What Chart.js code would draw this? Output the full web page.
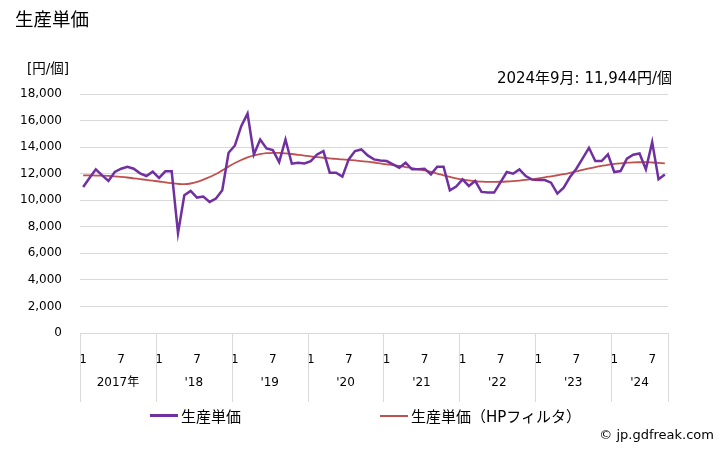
<!DOCTYPE html>
<html>
<head>
<meta charset="utf-8">
<script src="https://cdn.jsdelivr.net/npm/chart.js@4"></script>
<style>
  body { margin: 0; background: #fff; font-family: "DejaVu Sans", "Noto Sans CJK JP", sans-serif; color: #000; }
  #wrap { position: relative; width: 728px; height: 450px; }
  canvas { position: absolute; left: 0; top: 0; }
  .txt { position: absolute; white-space: nowrap; line-height: 1; }
  .sw { display: inline-block; width: 28px; height: 3px; vertical-align: middle; margin-right: 3px; position: relative; top: -2px; }
</style>
</head>
<body>
<div id="wrap">
  <canvas id="myChart" width="728" height="450"></canvas>
  <div class="txt" style="left:15px; top:9px; font-size:18.5px; font-family:'Noto Sans CJK JP';">生産単価</div>
  <div class="txt" style="left:27px; top:62px; font-size:13.5px;">[円/個]</div>
  <div class="txt" style="right:56px; top:71px; font-size:15px;">2024年9月: 11,944円/個</div>
  <div class="txt" style="left:150px; top:410px; font-size:15px;"><span class="sw" style="background:#7030a0"></span>生産単価</div>
  <div class="txt" style="left:380px; top:410px; font-size:15px;"><span class="sw" style="background:#c0504d; height:2px"></span>生産単価（HPフィルタ）</div>
  <div class="txt" style="right:14px; top:428px; font-size:13px;">© jp.gdfreak.com</div>
</div>
<script>
const years = ['2017年', "'18", "'19", "'20", "'21", "'22", "'23", "'24"];
const lastMonth = 9;

const unitPrice = [
  11000, 11675, 12325, 11875, 11450, 12125, 12375, 12525, 12375, 12025, 11825, 12150,
  11675, 12175, 12175, 7525, 10375, 10700, 10200, 10275, 9875, 10125, 10750, 13575,
  14125, 15575, 16525, 13450, 14575, 13900, 13775, 12875, 14575, 12750, 12825, 12775,
  12950, 13450, 13700, 12075, 12075, 11775, 13075, 13700, 13825, 13375, 13075, 13000,
  12950, 12700, 12450, 12825, 12325, 12325, 12375, 11950, 12525, 12525, 10750, 11025,
  11575, 11075, 11450, 10625, 10575, 10575, 11350, 12125, 12000, 12325, 11825, 11550,
  11525, 11525, 11325, 10500, 10950, 11750, 12375, 13150, 13950, 12950, 12950, 13450,
  12125, 12200, 13125, 13425, 13525, 12325, 14375, 11575, 11944
];

const unitPriceHP = [
  11875, 11870, 11860, 11850, 11830, 11800, 11760, 11710, 11650, 11590, 11530, 11470,
  11410, 11340, 11280, 11230, 11210, 11260, 11380, 11550, 11750, 11980, 12250, 12530,
  12800, 13030, 13220, 13370, 13470, 13540, 13570, 13560, 13530, 13480, 13420, 13360,
  13300, 13250, 13200, 13150, 13110, 13070, 13040, 13000, 12950, 12900, 12840, 12770,
  12700, 12650, 12580, 12500, 12420, 12330, 12240, 12130, 12010, 11880, 11760, 11650,
  11560, 11490, 11430, 11400, 11380, 11380, 11390, 11410, 11440, 11480, 11530, 11590,
  11650, 11720, 11800, 11880, 11960, 12060, 12170, 12290, 12400, 12500, 12590, 12670,
  12730, 12780, 12820, 12850, 12860, 12860, 12840, 12810, 12780
];

const yTicks = [0, 2000, 4000, 6000, 8000, 10000, 12000, 14000, 16000, 18000];

// month labels, 1..12 per year, last year stops at lastMonth
const labels = [];
const monthOf = [];
years.forEach((y, yi) => {
  const n = yi === years.length - 1 ? lastMonth : 12;
  for (let m = 1; m <= n; m++) {
    labels.push(y + '-' + m);
    monthOf.push(m);
  }
});

const gridColor = '#d9d9d9';
const tickFont = { family: '"DejaVu Sans", "Noto Sans CJK JP"', size: 12 };

// year separators and year labels below the month ticks
const yearAxis = {
  id: 'yearAxis',
  afterDraw(chart) {
    const { ctx, scales: { x } } = chart;
    const bottom = chart.chartArea.bottom;
    const half = (x.getPixelForValue(1) - x.getPixelForValue(0)) / 2;
    ctx.save();
    ctx.strokeStyle = gridColor;
    ctx.lineWidth = 1;
    ctx.fillStyle = '#000';
    ctx.font = '12px "DejaVu Sans", "Noto Sans CJK JP"';
    ctx.textAlign = 'center';
    ctx.textBaseline = 'middle';
    let start = 0;
    years.forEach((y, yi) => {
      const n = yi === years.length - 1 ? lastMonth : 12;
      const x0 = x.getPixelForValue(start) - half;
      const x1 = x.getPixelForValue(start + n - 1) + half;
      [x0, x1].forEach(px => {
        ctx.beginPath();
        ctx.moveTo(Math.round(px) + 0.5, bottom);
        ctx.lineTo(Math.round(px) + 0.5, bottom + 69);
        ctx.stroke();
      });
      ctx.fillText(y, (x0 + x1) / 2, bottom + 50);
      start += n;
    });
    ctx.restore();
  }
};

new Chart(document.getElementById('myChart'), {
  type: 'line',
  data: {
    labels: labels,
    datasets: [{
      label: '生産単価',
      data: unitPrice,
      borderColor: '#7030a0',
      borderWidth: 2.5,
      pointRadius: 0,
      tension: 0
    }, {
      label: '生産単価（HPフィルタ）',
      data: unitPriceHP,
      borderColor: '#c0504d',
      borderWidth: 1.8,
      pointRadius: 0,
      tension: 0.4
    }]
  },
  options: {
    responsive: false,
    animation: false,
    layout: { padding: { top: 94, right: 60, left: 0, bottom: 0 } },
    scales: {
      x: {
        offset: true,
        grid: { display: false },
        border: { display: true, color: gridColor },
        afterFit: s => { s.height = 117; },
        ticks: {
          autoSkip: false,
          maxRotation: 0,
          padding: 12,
          color: '#000',
          font: tickFont,
          callback: (v, i) => (monthOf[i] === 1 || monthOf[i] === 7) ? String(monthOf[i]) : ''
        }
      },
      y: {
        min: 0,
        max: 18000,
        afterFit: s => { s.width = 80; },
        afterBuildTicks: s => { s.ticks = yTicks.map(v => ({ value: v })); },
        grid: { color: gridColor, drawTicks: false },
        border: { display: false },
        ticks: {
          padding: 18,
          color: '#000',
          font: tickFont,
          callback: v => v.toLocaleString('en-US')
        }
      }
    },
    plugins: {
      legend: { display: false },
      tooltip: { enabled: false }
    }
  },
  plugins: [yearAxis]
});
</script>
</body>
</html>
